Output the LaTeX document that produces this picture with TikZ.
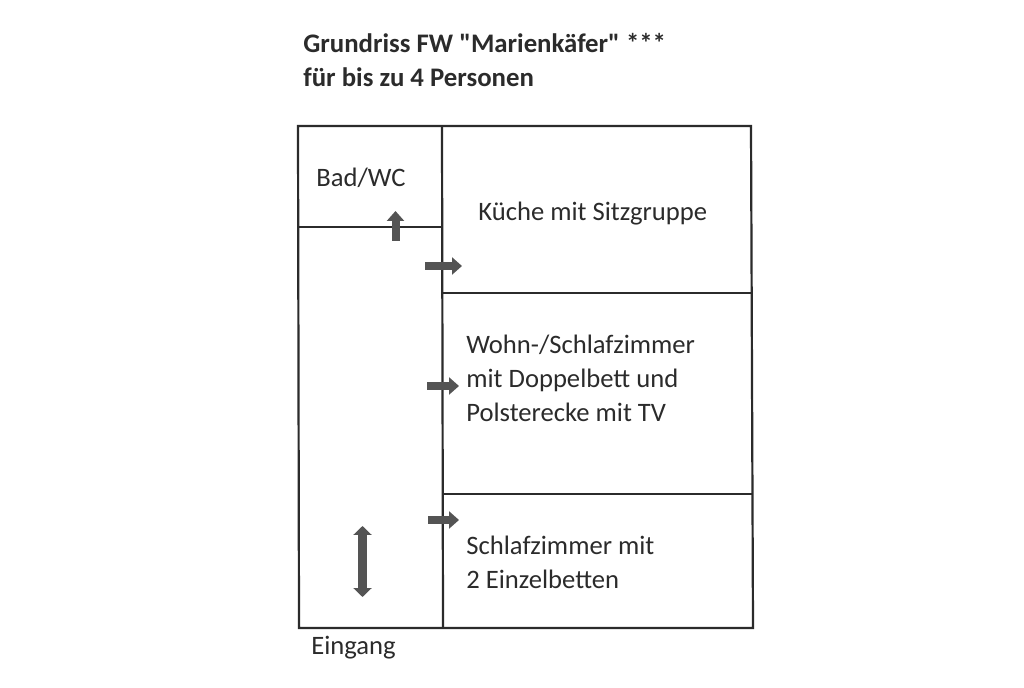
\documentclass[tikz,border=0pt]{standalone}
\usepackage{fontspec}
\setmainfont{Carlito}[Ligatures=TeXOff]
\usetikzlibrary{arrows.meta}
\definecolor{tinte}{gray}{0.17}
\definecolor{pfeilgrau}{gray}{0.33}
\tikzset{
    wall/.style={-,tinte,line width=0.044cm},
    pfeil/.style={-{Triangle[length=0.2cm,width=0.34cm]},pfeilgrau,line width=0.16cm},
    doppelpfeil/.style={{Triangle[length=0.18cm,width=0.36cm]}-{Triangle[length=0.18cm,width=0.36cm]},pfeilgrau,line width=0.18cm},
    raum/.style={anchor=base west,inner sep=0pt,tinte,font=\fontsize{15.15}{18}\selectfont},
    titel/.style={anchor=base west,inner sep=0pt,tinte,font=\fontsize{15.25}{18}\selectfont\bfseries}
}
\begin{document}
\begin{tikzpicture}[x=0.02cm,y=-0.02cm]
    \useasboundingbox (0,0) rectangle (1024,688);

    \node[titel] at (303,53) (titel1){Grundriss FW "Marienkäfer" ***};
    \node[titel] at (303,87) (titel2){für bis zu 4 Personen};

    \node[raum] at (316,187) (bad){Bad/WC};
    \node[raum] at (478,220.5) (kueche){Küche mit Sitzgruppe};
    \node[raum] at (466,354) (wohn1){Wohn-/Schlafzimmer};
    \node[raum] at (466,388) (wohn2){mit Doppelbett und};
    \node[raum] at (466,422) (wohn3){Polsterecke mit TV};
    \node[raum] at (466,555) (schlaf1){Schlafzimmer mit};
    \node[raum] at (466,588.5) (schlaf2){2 Einzelbetten};
    \node[raum] at (311,654) (eingang){Eingang};

    \coordinate (ol) at (298,126);
    \coordinate (or) at (751,126);
    \coordinate (ul) at (299,628);
    \coordinate (ur) at (753,628);
    \coordinate (mo) at (442,126);
    \coordinate (mu) at (443,628);
    \coordinate (badl) at (298.5,227);
    \coordinate (badr) at (442,227);
    \coordinate (kuechel) at (442,293);
    \coordinate (kuecher) at (752,293);
    \coordinate (wohnl) at (443,494);
    \coordinate (wohnr) at (752,494);

    \draw[wall] (ol) -- (or) -- (ur) -- (ul) -- cycle; %aussen
    \draw[wall] (mo) -- (mu); %flur
    \draw[wall] (badl) -- (badr); %bad
    \draw[wall] (kuechel) -- (kuecher); %kueche
    \draw[wall] (wohnl) -- (wohnr); %wohn

    \draw[pfeil] (395.5,241) -- (395.5,211); %flur-bad
    \draw[pfeil] (425,266) -- (462,266); %flur-kueche
    \draw[pfeil] (427,386) -- (459,386); %flur-wohn
    \draw[pfeil] (428,520) -- (459,520); %flur-schlaf
    \draw[doppelpfeil] (362.5,526) -- (362.5,597); %eingang
\end{tikzpicture}
\end{document}
